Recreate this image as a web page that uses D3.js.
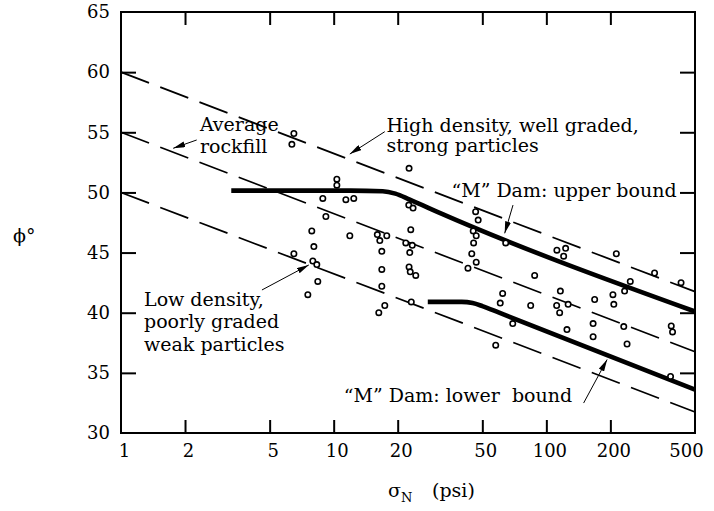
<!DOCTYPE html>
<html><head><meta charset="utf-8">
<script src="https://cdn.jsdelivr.net/npm/d3@7"></script>
<style>
body{margin:0;background:#fff;}
svg text{font-family:"DejaVu Serif","Liberation Serif",serif;fill:#000;}
</style></head><body>
<svg id="chart" width="714" height="511"></svg>
<script>
// ---- data ----
const xTicks = [1,2,5,10,20,50,100,200,500];
const yTicks = [30,35,40,45,50,55,60,65];
const sigma = [6.50,6.36,6.50,7.89,8.07,7.98,8.33,8.42,7.56,8.89,
  9.19,10.35,10.35,11.41,12.43,11.91,16.04,16.48,17.77,16.84,
  16.84,16.84,17.39,16.30,22.62,22.55,23.62,23.04,21.83,23.42,
  22.79,22.62,22.91,24.32,23.17,46.5,47.8,45.3,46.8,45.5,
  44.6,46.8,42.8,64.4,88.1,62.3,60.7,84.4,69.5,57.8,
  112.1,123.2,120.6,213.3,248.1,233.3,322.7,429.9,116.4,111.8,
  126.6,115.5,168.7,205.6,207.6,125.0,165.9,165.9,231.2,239.6,
  386.6,392.1,383.7];
const phi = [54.9,54.0,44.9,46.8,45.5,44.3,44.0,42.6,41.5,49.5,
  48.0,51.1,50.6,49.4,49.5,46.4,46.5,46.0,46.4,45.1,
  43.6,42.2,40.6,40.0,52.0,48.95,48.7,46.9,45.8,45.6,
  45.0,43.8,43.4,43.1,40.9,48.4,47.7,46.8,46.4,45.8,
  44.9,44.2,43.7,45.8,43.1,41.6,40.8,40.6,39.1,37.3,
  45.2,45.35,44.7,44.9,42.6,41.8,43.3,42.5,41.8,40.6,
  40.7,40.0,41.1,41.5,40.7,38.6,39.1,38.0,38.85,37.4,
  38.9,38.4,34.7];
const dashedSigma = [1,500];
const dashedStart = [60,55,50];          // phi at sigma = 1
const dashedEnd = [41.75,36.75,31.75];   // phi at sigma = 500
const upperSigma = [3.3,12,17,19.5,22.8,31.5,500];
const upperPhi   = [50.15,50.15,50.1,49.9,49.4,48.3,40.1];
const lowerSigma = [27.7,40,45,50,60,500];
const lowerPhi   = [40.9,40.9,40.8,40.55,40.0,33.6];
const noteText  = ["Average","rockfill","High density, well graded,","strong particles",
  "\u201CM\u201D Dam: upper bound","Low density,","poorly graded","weak particles",
  "\u201CM\u201D Dam: lower  bound"];
const noteSigma = [2.35,2.35,17.71,17.71,35.8,1.283,1.283,1.283,11.16];
const notePhi   = [55.10,53.28,55.05,53.36,49.64,40.56,38.69,36.82,32.6];
const arrowFromSigma = [2.27,17.39,69.7,4.60,149.7];
const arrowFromPhi   = [54.36,55.05,48.95,41.89,32.49];
const arrowToSigma   = [1.76,11.91,63.7,7.64,193.1];
const arrowToPhi     = [53.67,53.19,46.6,43.97,36.11];

// ---- chart ----
const svg = d3.select("#chart");
const x = d3.scaleLog().domain([1,500]).range([121,695]);
const y = d3.scaleLinear().domain([30,65]).range([433,12]);

svg.append("defs").append("marker")
  .attr("id","ah").attr("viewBox","0 0 12 6").attr("refX",12).attr("refY",3)
  .attr("markerUnits","userSpaceOnUse").attr("markerWidth",12).attr("markerHeight",6)
  .attr("orient","auto")
  .append("path").attr("d","M0,0L12,3L0,6Z").attr("fill","#000");

// axes
function styleAxis(g){
  g.select(".domain").remove();
  g.attr("font-family",null).attr("font-size",null);
  g.selectAll("line").attr("stroke","#000").attr("stroke-width",2);
  g.selectAll("text").attr("font-size",18).attr("fill","#000");
}
const inner = xTicks.filter(v=>v>1&&v<500);
svg.append("g").attr("transform","translate(0,433)")
  .call(d3.axisBottom(x).tickValues(xTicks).tickSize(-13).tickPadding(11).tickFormat(d3.format("d")))
  .call(styleAxis)
  .call(g=>{
    g.selectAll(".tick").filter(d=>d===1||d===500).select("line").remove();
    g.selectAll(".tick text").attr("dx",d=>d===500?-9:3);
  });
svg.append("g").attr("transform","translate(0,12)")
  .call(d3.axisTop(x).tickValues(inner).tickSize(-13).tickFormat(""))
  .call(styleAxis);
svg.append("g").attr("transform","translate(121,0)")
  .call(d3.axisLeft(y).tickValues(yTicks).tickSize(-15).tickPadding(11).tickFormat(d3.format("d")))
  .call(styleAxis)
  .call(g=>g.selectAll(".tick").filter(d=>d===30||d===65).select("line").remove());
svg.append("g").attr("transform","translate(695,0)")
  .call(d3.axisRight(y).tickValues(yTicks.filter(v=>v>30&&v<65)).tickSize(-15).tickFormat(""))
  .call(styleAxis);

svg.append("rect").attr("x",x(1)).attr("y",y(65))
  .attr("width",x(500)-x(1)).attr("height",y(30)-y(65))
  .attr("fill","none").attr("stroke","#000").attr("stroke-width",2);

// dashed reference lines
dashedStart.forEach((s,i)=>{
  svg.append("line")
    .attr("x1",x(dashedSigma[0])).attr("y1",y(s))
    .attr("x2",x(dashedSigma[1])).attr("y2",y(dashedEnd[i]))
    .attr("stroke","#000").attr("stroke-width",1.7)
    .attr("stroke-dasharray","30,12");
});

// "M" Dam bounds
const line = d3.line().x(d=>x(d[0])).y(d=>y(d[1])).curve(d3.curveMonotoneX);
svg.append("path").attr("d",line(upperSigma.map((s,i)=>[s,upperPhi[i]])))
  .attr("fill","none").attr("stroke","#000").attr("stroke-width",4.6);
svg.append("path").attr("d",line(lowerSigma.map((s,i)=>[s,lowerPhi[i]])))
  .attr("fill","none").attr("stroke","#000").attr("stroke-width",4.6);

// data points
svg.append("g").selectAll("circle").data(sigma).join("circle")
  .attr("cx",(d)=>x(d)).attr("cy",(d,i)=>y(phi[i])).attr("r",2.7)
  .attr("fill","#fff").attr("stroke","#000").attr("stroke-width",1.6);

// arrows
arrowFromSigma.forEach((s,i)=>{
  svg.append("line")
    .attr("x1",x(s)).attr("y1",y(arrowFromPhi[i]))
    .attr("x2",x(arrowToSigma[i])).attr("y2",y(arrowToPhi[i]))
    .attr("stroke","#000").attr("stroke-width",1)
    .attr("marker-end","url(#ah)");
});

// annotations
svg.append("g").selectAll("text").data(noteText).join("text")
  .attr("x",(d,i)=>x(noteSigma[i])).attr("y",(d,i)=>y(notePhi[i]))
  .attr("font-size",19).style("white-space","pre")
  .text(d=>d);

// axis titles
const yl = svg.append("text").attr("x",13).attr("y",242).attr("font-size",19);
yl.append("tspan").text("\u03D5");
yl.append("tspan").text("\u00B0");
const xl = svg.append("text").attr("x",388).attr("y",497).attr("font-size",19);
xl.append("tspan").text("\u03C3");
xl.append("tspan").attr("font-size",13).attr("dy",5).text("N");
xl.append("tspan").attr("x",432).attr("dy",-5).text("(psi)");
</script>
</body></html>
